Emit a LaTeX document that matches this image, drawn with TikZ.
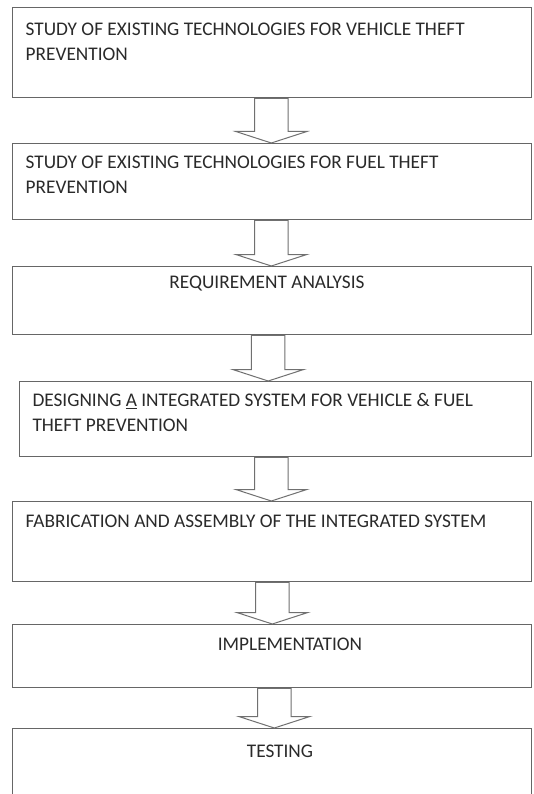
\documentclass[tikz,border=0pt]{standalone}
\usepackage{fontspec}
\setmainfont{Carlito}
\usetikzlibrary{calc}
\definecolor{boxline}{HTML}{666666}
\definecolor{txtcol}{HTML}{2A2A2A}
\definecolor{arrline}{HTML}{707070}
\tikzset{
  stage/.style={draw=boxline, line width=1.4pt, rectangle, inner sep=0pt, anchor=north west},
  lbl/.style={text=txtcol, font=\fontsize{19.3}{25}\selectfont, inner sep=0pt},
  barrow/.style={draw=arrline, line width=1pt, fill=white, line join=miter},
}
\newcommand\blockarrow[3]{%
  \draw[barrow] let \p1=(#1.south), \p2=(#2.north) in
    (#3pt-16.75pt,\y1) -- (#3pt-16.75pt,\y2+11.5pt) -- (#3pt-35.5pt,\y2+11.5pt) --
    (#3pt,\y2) -- (#3pt+35.5pt,\y2+11.5pt) -- (#3pt+16.75pt,\y2+11.5pt) --
    (#3pt+16.75pt,\y1) -- cycle;
}
\begin{document}
\begin{tikzpicture}[x=1pt,y=-1pt]
  \useasboundingbox (0,0) rectangle (534,794);
  \clip (0,0) rectangle (534,794);
  \fill[white] (0,0) rectangle (534,794);

  \node[stage, minimum width=519, minimum height=90] (b1) at (12,7) {};
  \node[stage, minimum width=519, minimum height=76] (b2) at (12,143) {};
  \node[stage, minimum width=519, minimum height=68] (b3) at (12,266) {};
  \node[stage, minimum width=512, minimum height=75] (b4) at (18.5,381) {};
  \node[stage, minimum width=519, minimum height=80] (b5) at (12,501) {};
  \node[stage, minimum width=519, minimum height=63] (b6) at (12,624) {};
  \node[stage, minimum width=519, minimum height=80] (b7) at (12,728) {};

  \node[lbl, anchor=base west] (t1) at (25.5,35.5)
    {\parbox[t]{490pt}{\raggedright STUDY OF EXISTING TECHNOLOGIES FOR VEHICLE THEFT\\PREVENTION}};
  \node[lbl, anchor=base west] (t2) at (25.5,169)
    {\parbox[t]{490pt}{\raggedright STUDY OF EXISTING TECHNOLOGIES FOR FUEL THEFT\\PREVENTION}};
  \node[lbl, anchor=base] (t3) at (267,288) {REQUIREMENT ANALYSIS};
  \node[lbl, anchor=base west] (t4) at (32.3,406.5)
    {\parbox[t]{490pt}{\raggedright DESIGNING \underline{A} INTEGRATED SYSTEM FOR VEHICLE \& FUEL\\THEFT PREVENTION}};
  \node[lbl, anchor=base west] (t5) at (25.5,527.4) {FABRICATION AND ASSEMBLY OF THE INTEGRATED SYSTEM};
  \node[lbl, anchor=base] (t6) at (290,650.6) {IMPLEMENTATION};
  \node[lbl, anchor=base] (t7) at (280,757.5) {TESTING};

  \blockarrow{b1}{b2}{271.3}
  \blockarrow{b2}{b3}{271.3}
  \blockarrow{b3}{b4}{268.2}
  \blockarrow{b4}{b5}{271.3}
  \blockarrow{b5}{b6}{272.3}
  \blockarrow{b6}{b7}{274.3}
\end{tikzpicture}
\end{document}
